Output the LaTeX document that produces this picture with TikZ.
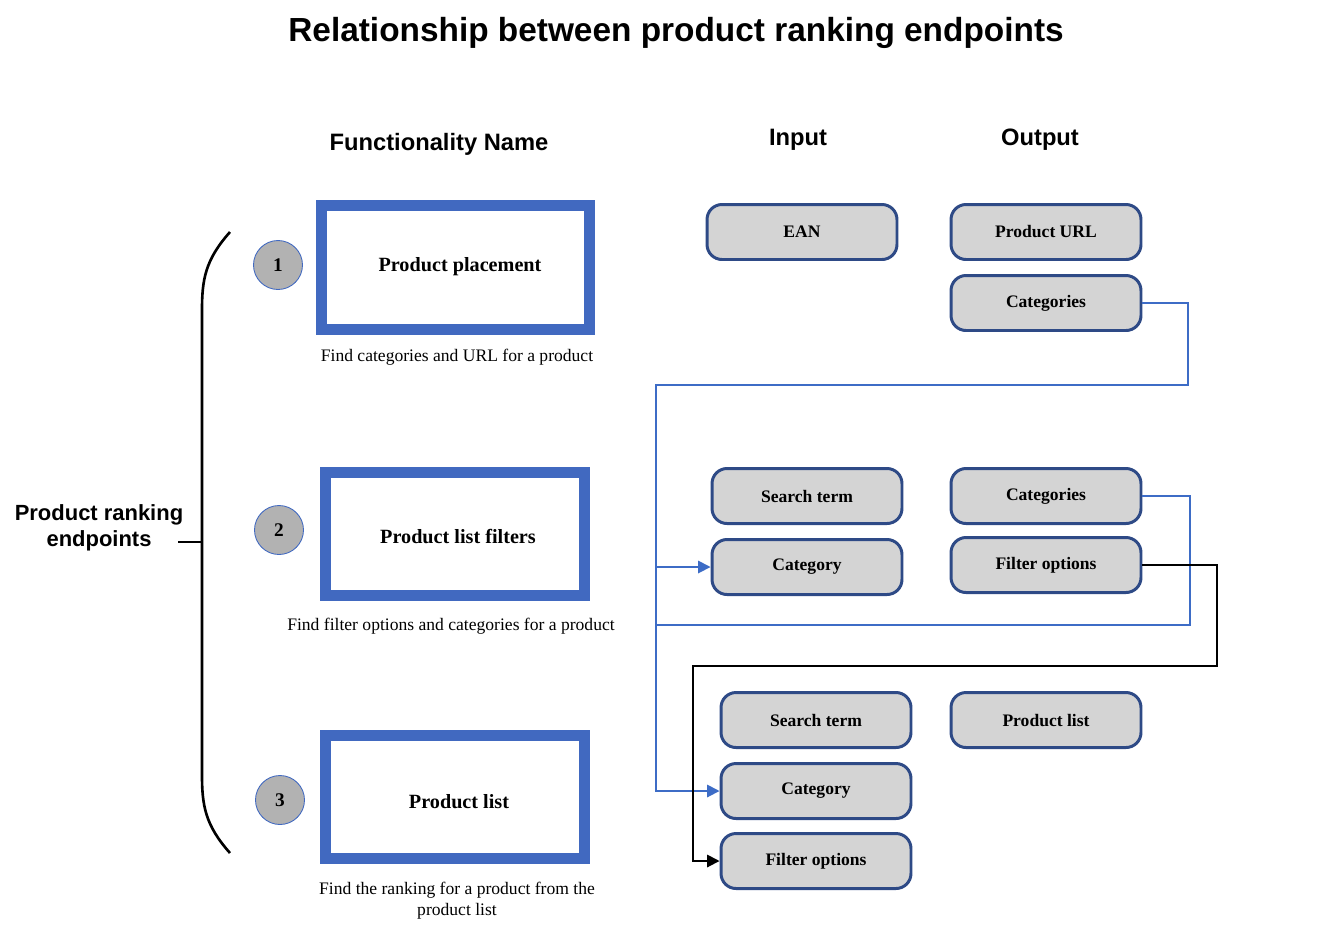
\documentclass[tikz,border=0pt]{standalone}
\usepackage{fontspec}
\setmainfont{Liberation Serif}
\newfontfamily\hsans{Liberation Sans}
\usetikzlibrary{arrows.meta}
\definecolor{fblue}{HTML}{4169C0}
\definecolor{pborder}{HTML}{2E4A86}
\definecolor{pfill}{HTML}{D4D4D4}
\definecolor{lblue}{HTML}{3D6CC6}
\begin{document}
\begin{tikzpicture}[x=0.02cm,y=-0.02cm,
 circ/.style={circle,draw=fblue,fill=gray!60,line width=0.5pt,minimum size=0.98cm,font=\bfseries\fontsize{11}{13}\selectfont},
 pill/.style={draw=pborder,fill=pfill,line width=1.7pt,rounded corners=0.3cm,minimum width=3.8cm,minimum height=1.1cm,font=\bfseries\fontsize{10}{12}\selectfont},
 head/.style={font=\hsans\bfseries\fontsize{13.5}{16}\selectfont},
 captxt/.style={font=\fontsize{10}{12}\selectfont,align=center},
 boxtxt/.style={font=\bfseries\fontsize{11.5}{14}\selectfont},
 bl/.style={draw=lblue,line width=1pt},
 arr/.style={-{Triangle[length=7pt,width=7pt]}}]
\useasboundingbox (0,0) rectangle (1344,934);
\node[font=\hsans\bfseries\fontsize{19}{22}\selectfont] (title) at (676,33) {Relationship between product ranking endpoints};
\node[head] (hf) at (439,144) {Functionality Name};
\node[head] (hi) at (798,140) {Input};
\node[head] (ho) at (1040,140) {Output};
% frames
\draw[fblue,line width=6.8pt,fill=white] (321.5,205.5) rectangle (589.5,329.5);
\node[boxtxt] (b1) at (460,267) {Product placement};
\draw[fblue,line width=6.8pt,fill=white] (325.5,472.5) rectangle (584.5,595.5);
\node[boxtxt] (b2) at (458,536) {Product list filters};
\draw[fblue,line width=6.8pt,fill=white] (325.5,735.5) rectangle (584.5,858.5);
\node[boxtxt] (b3) at (459,802) {Product list};
\node[circ] (c1) at (278,265) {1};
\node[circ] (c2) at (279,530) {2};
\node[circ] (c3) at (280,800) {3};
\node[captxt] (k1) at (457,357) {Find categories and URL for a product};
\node[captxt] (k2) at (451,626) {Find filter options and categories for a product};
\node[captxt] (k3) at (457,901) {Find the ranking for a product from the\\product list};
% brace
\draw[line width=1.5pt] (230,232) .. controls (205,260) and (202,280) .. (202,310) -- (202,775) .. controls (202,805) and (205,825) .. (230,853);
\draw[line width=1.5pt] (178,542) -- (202,542);
\node[font=\hsans\bfseries\fontsize{12.5}{15}\selectfont,align=center] (pr) at (99,528) {Product ranking\\endpoints};
% pills
\node[pill] (ean) at (802,232) {EAN};
\node[pill] (url) at (1046,232) {Product URL};
\node[pill] (cat1) at (1046,303) {Categories};
\node[pill] (st2) at (807,496) {Search term};
\node[pill] (ca2) at (807,567) {Category};
\node[pill] (cat2) at (1046,496) {Categories};
\node[pill] (fo2) at (1046,565) {Filter options};
\node[pill] (st3) at (816,720) {Search term};
\node[pill] (ca3) at (816,791) {Category};
\node[pill] (fo3) at (816,861) {Filter options};
\node[pill] (pl) at (1046,720) {Product list};
% connectors
\coordinate (j1) at (656,567);
\draw[bl,arr] (cat1.east) -- (1188,303) -- (1188,385) -- (656,385) -- (656,791) -- (ca3.west);
\draw[bl,arr] (j1) -- (ca2.west);
\draw[bl] (cat2.east) -- (1190,496) -- (1190,625) -- (656,625);
\draw[line width=1pt,arr] (fo2.east) -- (1217,565) -- (1217,666) -- (693,666) -- (693,861) -- (fo3.west);
\end{tikzpicture}
\end{document}
